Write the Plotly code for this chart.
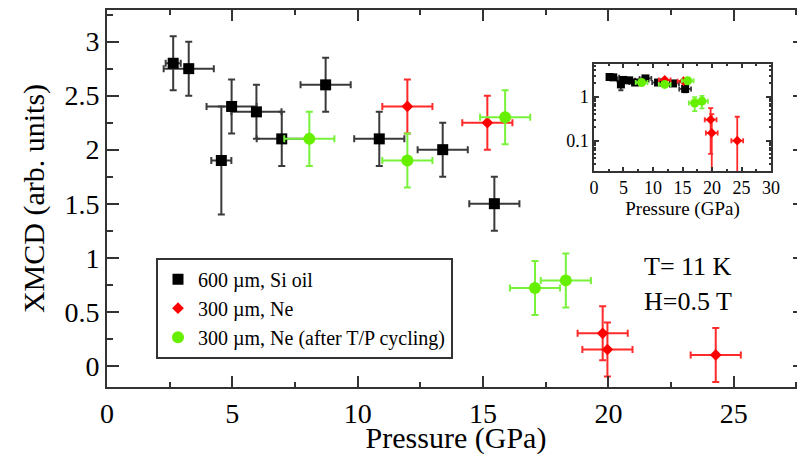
import plotly.graph_objects as go

# ---- data ----
black_name = "600 µm, Si oil"
black_x = [2.64, 3.26, 4.56, 4.97, 5.96, 6.97, 8.72, 10.86, 13.39, 15.45]
black_y = [2.80, 2.75, 1.90, 2.40, 2.35, 2.10, 2.60, 2.10, 2.00, 1.50]
black_xerr = [0.3, 1.0, 0.4, 1.0, 1.0, 1.0, 1.0, 1.0, 1.0, 1.0]
black_yerr = [0.25, 0.25, 0.5, 0.25, 0.25, 0.25, 0.25, 0.25, 0.25, 0.25]

red_name = "300 µm, Ne"
red_x = [11.98, 15.17, 19.77, 19.96, 24.28]
red_y = [2.40, 2.25, 0.30, 0.15, 0.10]
red_xerr = [1.0, 1.0, 1.0, 1.0, 1.0]
red_yerr = [0.25, 0.25, 0.25, 0.25, 0.25]

green_name = "300 µm, Ne (after T/P cycling)"
green_x = [8.07, 11.98, 15.88, 17.07, 18.30]
green_y = [2.10, 1.90, 2.30, 0.72, 0.79]
green_xerr = [1.0, 1.0, 1.0, 1.0, 1.0]
green_yerr = [0.25, 0.25, 0.25, 0.25, 0.25]

x_ticks = [0, 5, 10, 15, 20, 25]
y_ticks = [0, 0.5, 1, 1.5, 2, 2.5, 3]
inset_x_ticks = [0, 5, 10, 15, 20, 25, 30]
inset_y_ticks = [0.1, 1]
inset_y_minor = [0.02, 0.03, 0.04, 0.05, 0.06, 0.07, 0.08, 0.09,
                 0.2, 0.3, 0.4, 0.5, 0.6, 0.7, 0.8, 0.9, 2, 3, 4, 5]

FONT = "Liberation Serif"
BLACK = "#000000"
RED = "#ff0000"
GREEN = "#66f000"
AXC = "#333333"

series = [
    (black_name, black_x, black_y, black_xerr, black_yerr, BLACK, "#3a3a3a", "square", 11, 8),
    (red_name, red_x, red_y, red_xerr, red_yerr, RED, "#ff2a2a", "diamond", 9, 7.5),
    (green_name, green_x, green_y, green_xerr, green_yerr, GREEN, "#78f23a", "circle", 12, 9),
]

fig = go.Figure()
for name, xs, ys, xe, ye, col, ecol, sym, size, isize in series:
    fig.add_trace(go.Scatter(
        x=xs, y=ys, mode="markers", name=name,
        marker=dict(symbol=sym, size=size, color=col, line=dict(width=0)),
        error_x=dict(type="data", array=xe, color=ecol, thickness=2, width=3.5),
        error_y=dict(type="data", array=ye, color=ecol, thickness=2, width=3.5),
        xaxis="x", yaxis="y",
    ))
for name, xs, ys, xe, ye, col, ecol, sym, size, isize in series:
    fig.add_trace(go.Scatter(
        x=xs, y=ys, mode="markers", name=name, showlegend=False,
        marker=dict(symbol=sym, size=isize, color=col, line=dict(width=0)),
        error_x=dict(type="data", array=xe, color=ecol, thickness=1.8, width=2.5),
        error_y=dict(type="data", array=ye, color=ecol, thickness=1.8, width=2.5),
        xaxis="x2", yaxis="y2",
    ))

axis_common = dict(showline=True, linecolor=AXC, linewidth=2, ticks="inside",
                   tickcolor=AXC, tickwidth=2, mirror="ticks", showgrid=False,
                   zeroline=False, automargin=False,
                   tickfont=dict(family=FONT, size=28, color="#000"))

# the page body has an 8px margin, so the figure is 8px smaller than the window
fig.update_layout(
    width=797, height=447,
    margin=dict(l=99, r=0, t=2, b=68, autoexpand=False),
    paper_bgcolor="white", plot_bgcolor="white",
    font=dict(family=FONT, color="#000"),
    xaxis=dict(**axis_common, range=[0, 27.84], tickvals=x_ticks, ticklen=11,
               minor=dict(ticks="inside", ticklen=5, dtick=2.5, tick0=0, tickcolor=AXC, tickwidth=2),
               title=dict(text="Pressure (GPa)", font=dict(family=FONT, size=30), standoff=2),
               domain=[0, 1]),
    yaxis=dict(**axis_common, range=[-0.197, 3.293], tickvals=y_ticks, ticklen=12,
               minor=dict(ticks="inside", ticklen=6, dtick=0.25, tick0=0, tickcolor=AXC, tickwidth=2),
               title=dict(text="XMCD (arb. units)", font=dict(family=FONT, size=30), standoff=11),
               domain=[0, 1]),
    xaxis2=dict(showline=True, linecolor=AXC, linewidth=1.5, ticks="inside", tickcolor=AXC,
                tickwidth=1.5, ticklen=4, mirror="ticks", showgrid=False, zeroline=False,
                automargin=False,
                range=[0, 30], tickvals=inset_x_ticks, anchor="y2",
                domain=[0.6977, 0.9513],
                minor=dict(ticks="inside", ticklen=2.5, dtick=2.5, tick0=0, tickcolor=AXC, tickwidth=1.5),
                tickfont=dict(family=FONT, size=18, color="#000"),
                title=dict(text="Pressure (GPa)", font=dict(family=FONT, size=19), standoff=2)),
    yaxis2=dict(type="log", showline=True, linecolor=AXC, linewidth=1.5, ticks="inside",
                tickcolor=AXC, tickwidth=1.5, ticklen=5, mirror="ticks", showgrid=False,
                zeroline=False, automargin=False,
                range=[-1.689, 0.743], tickvals=inset_y_ticks,
                ticktext=["0.1", "1"], anchor="x2", domain=[0.5729, 0.8568],
                minor=dict(ticks="inside", ticklen=2.5, tickvals=inset_y_minor, tickcolor=AXC, tickwidth=1.5),
                tickfont=dict(family=FONT, size=18, color="#000")),
    legend=dict(x=0.0702, y=0.343, xanchor="left", yanchor="top",
                bordercolor=AXC, borderwidth=2, bgcolor="white",
                font=dict(family=FONT, size=20, color="#000"),
                tracegroupgap=0),
    showlegend=True,
)

fig.add_annotation(text="T= 11 K", x=0.766, y=0.319, xref="paper", yref="paper",
                   xanchor="left", yanchor="middle", showarrow=False,
                   font=dict(family=FONT, size=26, color="#000"))
fig.add_annotation(text="H=0.5 T", x=0.766, y=0.226, xref="paper", yref="paper",
                   xanchor="left", yanchor="middle", showarrow=False,
                   font=dict(family=FONT, size=26, color="#000"))

fig.write_html("out.html")
